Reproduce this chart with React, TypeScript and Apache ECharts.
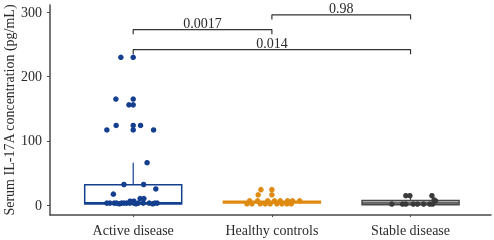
import React, { useEffect, useRef } from 'react';
import * as echarts from 'echarts';

const categories = ['Active disease', 'Healthy controls', 'Stable disease'];
const yTicks = [0, 100, 200, 300];

// [Q1, median, Q3]
const boxStats = [
  [1.5, 3.5, 31.5],
  [3, 4.5, 6],
  [0.5, 3, 7.2],
];
const whiskerTop = [66, 6, 14.5];
const boxColors = ['#133f8e', '#df8a10', '#4a4a4a'];
const boxFills = ['#ffffff', '#df8a10', '#c9c9c9'];
const pointColors = ['#133f8e', '#df8a10', '#3a3a3a'];

const activeValues = [
  230, 230, 165, 165, 156, 156, 124, 124, 124, 117, 117, 117, 66, 32, 32, 25, 17, 10, 10, 6, 6,
  3, 3, 3, 3, 3, 3, 3, 3, 3, 3, 3, 3, 3, 3, 2, 2, 2,
];
const activeOffsets = [
  -0.089, 0, -0.125, 0, -0.031, 0, -0.123, 0, 0.053, -0.19, 0, 0.147, 0.1, -0.067, 0.075, 0.163, -0.143, 0.05, 0.077, -0.022, 0.005,
  -0.19, -0.168, -0.137, -0.12, -0.084, -0.067, -0.048, -0.024, 0.005, 0.036, 0.072, 0.115, 0.156, 0.173, -0.1, 0.02, 0.14,
];
const healthyValues = [24, 24, 16, 16, 6.5, 6.5, 6.5, 6.5, 6.5, 6.5, 6.5, 6.5, 2, 2, 2, 2, 2, 2, 2, 2, 2];
const healthyOffsets = [
  -0.079, 0, -0.099, 0, -0.161, -0.103, -0.03, 0.019, 0.06, 0.113, 0.149, 0.2,
  -0.18, -0.144, -0.084, -0.048, -0.012, 0.036, 0.072, 0.108, 0.14,
];
const stableValues = [14.5, 14.5, 14.5, 8, 6.5, 1.5, 1.5, 1.5, 1.5, 1.5, 1.5, 1.5, 1.5];
const stableOffsets = [-0.034, -0.005, 0.154, 0.17, 0.18, -0.135, -0.058, -0.034, 0.019, 0.05, 0.094, 0.139, 0.159];

const bracketStarts = [1, 2, 1];
const bracketEnds = [2, 3, 3];
const bracketHeights = [273, 296, 242];
const bracketLabels = ['0.0017', '0.98', '0.014'];

const FONT = 'Liberation Serif';
const TEXT = '#2b2b2b';
const AXIS = '#4a4a4a';

export default function App() {
  const ref = useRef<HTMLDivElement>(null);
  useEffect(() => {
    const chart = echarts.init(ref.current!, null, { renderer: 'svg' });
    const groups = [
      [activeValues, activeOffsets],
      [healthyValues, healthyOffsets],
      [stableValues, stableOffsets],
    ];
    const series: any[] = [];
    series.push({
      type: 'boxplot',
      boxWidth: [97, 97],
      z: 2,
      data: boxStats.map((s, i) => ({
        value: [i + 1, s[0], s[0], s[1], s[2], s[2]],
        itemStyle: { color: boxFills[i], borderColor: boxColors[i], borderWidth: 1.5 },
      })),
    });
    whiskerTop.forEach((w, i) => {
      series.push({
        type: 'line',
        symbol: 'none',
        z: 2,
        lineStyle: { color: boxColors[i], width: 1.2 },
        data: [[i + 1, boxStats[i][2]], [i + 1, w]],
      });
    });
    groups.forEach(([vals, offs], i) => {
      series.push({
        type: 'scatter',
        symbolSize: 5.5,
        z: 3,
        itemStyle: { color: pointColors[i], opacity: 1 },
        data: (vals as number[]).map((v, k) => [i + 1 + (offs as number[])[k], v]),
      });
    });
    bracketLabels.forEach((lab, i) => {
      const s = bracketStarts[i];
      const e = bracketEnds[i];
      const h = bracketHeights[i];
      series.push({
        type: 'line',
        symbol: 'none',
        z: 4,
        lineStyle: { color: '#333', width: 1.2 },
        data: [[s, h - 7], [s, h], [e, h], [e, h - 7]],
      });
      series.push({
        type: 'scatter',
        symbolSize: 1,
        z: 4,
        itemStyle: { color: 'rgba(0,0,0,0)' },
        label: {
          show: true,
          position: 'inside',
          formatter: lab,
          fontFamily: FONT,
          fontSize: 14,
          color: TEXT,
          textBorderWidth: 0,
          opacity: 1,
        },
        data: [[(s + e) / 2, h + 9.5]],
      });
    });

    chart.setOption({
      animation: false,
      grid: { left: 50, right: 3, top: 5, bottom: 25, containLabel: false, outerBoundsMode: 'none' },
      xAxis: {
        type: 'value',
        min: 0.4,
        max: 3.58,
        splitLine: { show: false },
        axisLine: { show: true, onZero: false, lineStyle: { color: AXIS, width: 1.5 } },
        axisTick: { show: true, customValues: [1, 2, 3], length: 2, lineStyle: { color: AXIS } },
        axisLabel: {
          customValues: [1, 2, 3],
          formatter: (v: number) => categories[Math.round(v) - 1] ?? '',
          fontFamily: FONT,
          fontSize: 14,
          color: TEXT,
          margin: 8,
        },
      },
      yAxis: {
        type: 'value',
        min: -15.5,
        max: 311.5,
        splitLine: { show: false },
        axisLine: { show: true, onZero: false, lineStyle: { color: AXIS, width: 1.5 } },
        axisTick: { show: true, customValues: yTicks, length: 3, lineStyle: { color: AXIS } },
        axisLabel: {
          customValues: yTicks,
          fontFamily: FONT,
          fontSize: 14,
          color: TEXT,
          margin: 8,
        },
      },
      graphic: [
        {
          type: 'text',
          x: 9,
          y: 110,
          rotation: Math.PI / 2,
          style: {
            text: 'Serum IL-17A concentration (pg/mL)',
            fontFamily: FONT,
            fontSize: 14,
            fill: TEXT,
            align: 'center',
            verticalAlign: 'middle',
          },
        },
      ],
      series,
    });
    return () => chart.dispose();
  }, []);
  return <div ref={ref} style={{ position: 'fixed', left: 0, top: 0, width: 494, height: 240 }} />;
}
